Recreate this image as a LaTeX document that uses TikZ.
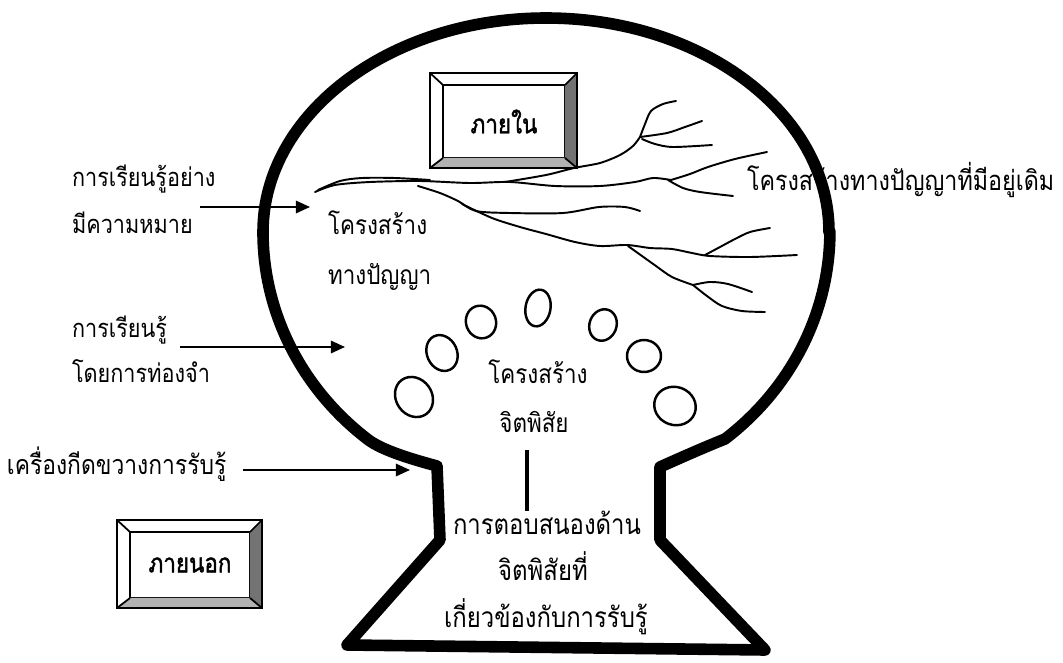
\documentclass[tikz,border=0pt]{standalone}
\usepackage{fontspec}
\newfontfamily\thai[Script=Thai,FakeStretch=0.85]{Loma}
\newfontfamily\thaib[Script=Thai,FakeStretch=0.85,FakeBold=1.5]{Loma}
\usetikzlibrary{arrows.meta}
\tikzset{
  txt/.style={font=\thai\fontsize{15}{17}\selectfont, inner sep=0pt, outer sep=0pt},
  lefttxt/.style={txt, font=\thai\fontsize{14.5}{17}\selectfont},
  bottxt/.style={txt, font=\thai\fontsize{16}{18}\selectfont},
  righttxt/.style={txt, font=\thai\fontsize{15.6}{18}\selectfont},
  outline/.style={line width=6.6pt, line join=round},
  branch/.style={line width=1.1pt, line cap=round, line join=round},
  arr/.style={line width=1.2pt, -{Triangle[length=8pt,width=7pt]}},
  bevbox/.style={draw, line width=1.2pt, inner sep=0pt, outer sep=0pt, font=\thaib\fontsize{15}{18}\selectfont},
  bubble/.style={line width=1.4pt},
  stem/.style={line width=2.8pt},
}
\newcommand\bevelframe[1]{%
  \coordinate (#1nw) at ([shift={(-13,-12)}]#1.north west);
  \coordinate (#1ne) at ([shift={(12,-12)}]#1.north east);
  \coordinate (#1se) at ([shift={(12,10)}]#1.south east);
  \coordinate (#1sw) at ([shift={(-13,10)}]#1.south west);
  \fill[black!55] (#1.north east) -- (#1ne) -- (#1se) -- (#1.south east) -- cycle;
  \fill[black!30] (#1.south west) -- (#1.south east) -- (#1se) -- (#1sw) -- cycle;
  \draw[line width=1.6pt] (#1nw) rectangle (#1se);
  \draw[line width=1pt] (#1nw) -- (#1.north west) (#1ne) -- (#1.north east)
        (#1se) -- (#1.south east) (#1sw) -- (#1.south west);
}
\begin{document}
\begin{tikzpicture}[x=0.02cm,y=-0.02cm]
\useasboundingbox (0,0) rectangle (1063,663);

% boxes
\node[bevbox, minimum width=2.44cm, minimum height=1.46cm] (bin) at (504,121.5) {ภายใน};
\bevelframe{bin}
\node[bevbox, minimum width=2.4cm, minimum height=1.32cm] (bout) at (190,565) {ภายนอก};
\bevelframe{bout}

% left labels
\node[lefttxt, anchor=base west] (l1a) at (72,186) {การเรียนรู้อย่าง};
\node[lefttxt, anchor=base west] (l1b) at (72,233) {มีความหมาย};
\node[lefttxt, anchor=base west] (l2a) at (72,337) {การเรียนรู้};
\node[lefttxt, anchor=base west] (l2b) at (72,382) {โดยการท่องจำ};
\node[lefttxt, font=\thai\fontsize{15.3}{17}\selectfont, anchor=base west] (l3) at (7,474) {เครื่องกีดขวางการรับรู้};
% right label
\node[righttxt, anchor=base west] (r1) at (747,190) {โครงสร้างทางปัญญาที่มีอยู่เดิม};
% inner labels
\node[txt, anchor=base west] (c1) at (328,234) {โครงสร้าง};
\node[txt, anchor=base west] (c2) at (328,284) {ทางปัญญา};
\node[txt, anchor=base] (j1) at (538,383) {โครงสร้าง};
\node[txt, anchor=base] (j2) at (534,432) {จิตพิสัย};
\node[bottxt, anchor=base] (p1) at (547,534) {การตอบสนองด้าน};
\node[bottxt, anchor=base] (p2) at (543,580) {จิตพิสัยที่};
\node[bottxt, anchor=base] (p3) at (546,627) {เกี่ยวข้องกับการรับรู้};

% stem between จิตพิสัย and response
\coordinate (vx) at (527,0);
\draw[stem] ([yshift=-10]j2.south -| vx) -- (p1.north -| vx);

% arrows
\coordinate (a1s) at (200,207); \coordinate (a1e) at (310,207);
\coordinate (a2s) at (180,347); \coordinate (a2e) at (345,347);
\coordinate (a3s) at (243,470); \coordinate (a3e) at (410,470);
\draw[arr] (a1s) -- (a1e);
\draw[arr] (a2s) -- (a2e);
\draw[arr] (a3s) -- (a3e);

% branching structure
\draw[branch] plot[smooth, tension=0.5] coordinates {(315,192) (335,185) (370,182) (420,181) (470,183) (510,182) (555,186) (600,186) (635,182) (653,178) (671,180)};
\draw[branch] plot[smooth, tension=0.5] coordinates {(318,190) (340,181) (362,178) (395,178) (430,180)};
\draw[branch] plot[smooth, tension=0.5] coordinates {(671,180) (690,174) (708,167) (735,159) (767,152)};
\draw[branch] plot[smooth, tension=0.5] coordinates {(668,180) (683,188) (700,192) (733,196)};
\draw[branch] plot[smooth, tension=0.5] coordinates {(505,182) (546,175) (574,168) (600,163) (620,155) (633,146) (640,137)};
\draw[branch] plot[smooth, tension=0.5] coordinates {(640,137) (645,124) (651,111) (663,104) (676,101)};
\draw[branch] plot[smooth, tension=0.5] coordinates {(640,137) (667,133) (685,127) (702,121)};
\draw[branch] plot[smooth, tension=0.5] coordinates {(642,139) (655,144) (673,147) (712,145)};
\draw[branch] plot[smooth, tension=0.5] coordinates {(418,186) (440,193) (458,201) (476,211) (510,213) (563,213) (599,207) (625,207) (640,211)};
\draw[branch] plot[smooth, tension=0.5] coordinates {(462,204) (492,218) (520,227) (546,234) (575,242) (600,246) (627,245) (650,248) (672,249) (692,253) (710,256) (750,257) (797,255)};
\draw[branch] plot[smooth, tension=0.5] coordinates {(705,255) (720,247) (735,239) (750,232) (770,228)};
\draw[branch] plot[smooth, tension=0.5] coordinates {(628,246) (642,256) (656,266) (672,277) (693,285)};
\draw[branch] plot[smooth, tension=0.5] coordinates {(693,285) (710,282) (728,284) (752,292)};
\draw[branch] plot[smooth, tension=0.5] coordinates {(693,285) (707,296) (722,306) (742,311) (765,312)};

% bubbles
\draw[bubble] (538,308) ellipse [x radius=12.5, y radius=18.5, rotate=-10];
\draw[bubble] (481,322) ellipse [x radius=15, y radius=16.5, rotate=20];
\draw[bubble] (603,325) ellipse [x radius=13.5, y radius=16, rotate=-20];
\draw[bubble] (442,353) ellipse [x radius=15, y radius=18.5, rotate=25];
\draw[bubble] (644,356) ellipse [x radius=17, y radius=16];
\draw[bubble] (414,397) ellipse [x radius=18, y radius=21, rotate=35];
\draw[bubble] (675,406) ellipse [x radius=21, y radius=19, rotate=-20];

% outline of the head
\draw[outline] (829,232) arc[start angle=0, end angle=-180, x radius=283, y radius=214]
  arc[start angle=180, end angle=129, x radius=283, y radius=267]
  .. controls (383,451) and (415,460) .. (437,466)
  -- (440,540) -- (347,645) -- (765,650) -- (660,540) -- (660,467)
  .. controls (680,458) and (705,447) .. (725,439)
  arc[start angle=51, end angle=0, x radius=283, y radius=267] -- cycle;
\end{tikzpicture}
\end{document}
